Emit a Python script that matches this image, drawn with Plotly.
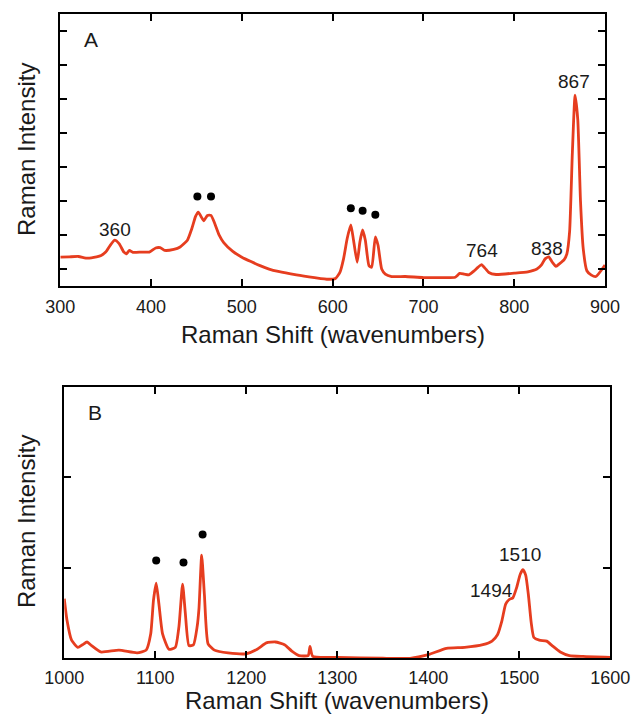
import plotly.graph_objects as go

# ---------------- Panel A data ----------------
a_shift = [300, 310, 320, 330, 340, 345, 350, 355, 360, 365, 370, 373, 376, 380, 390, 398, 405, 410, 415,
           425, 432, 440, 445, 449, 452, 455, 458, 462, 466, 470, 475, 480, 490, 500, 510, 520, 530, 540,
           560, 580, 595, 603, 608, 612, 616, 620, 623, 627, 630, 633, 636, 640, 643, 647, 650, 654, 658,
           665, 680, 700, 720, 735, 740, 745, 750, 756, 760, 764, 768, 772, 780, 800, 815, 825, 830, 834,
           838, 842, 846, 850, 855, 858, 861, 864, 867, 870, 873, 876, 880, 885, 890, 900]
a_int = [0.35, 0.36, 0.37, 0.32, 0.36, 0.40, 0.50, 0.70, 0.85, 0.74, 0.50, 0.45, 0.55, 0.49, 0.50, 0.50, 0.62,
         0.63, 0.55, 0.58, 0.65, 0.85, 1.20, 1.55, 1.68, 1.55, 1.42, 1.58, 1.58, 1.35, 1.00, 0.78, 0.52, 0.35,
         0.22, 0.10, 0.00, -0.07, -0.17, -0.25, -0.30, -0.28, -0.10, 0.30, 0.90, 1.30, 0.85, 0.20, 0.80, 1.15,
         0.85, 0.10, 0.05, 0.95, 0.70, 0.00, -0.15, -0.22, -0.22, -0.25, -0.25, -0.24, -0.13, -0.15, -0.17,
         -0.05, 0.05, 0.13, 0.02, -0.10, -0.16, -0.12, -0.08, 0.00, 0.12, 0.30, 0.36, 0.20, 0.08, 0.16, 0.28,
         0.45, 1.10, 3.40, 5.12, 4.40, 2.00, 0.60, -0.05, -0.18, -0.22, 0.12]

a_labels = ["360", "764", "838", "867"]
a_label_x = [360, 765, 836, 866]
a_label_y = [1.16, 0.55, 0.62, 5.52]
a_dot_x = [451, 466, 620, 633, 647]
a_dot_y = [2.14, 2.14, 1.79, 1.72, 1.60]
a_xticks = [300, 400, 500, 600, 700, 800, 900]
a_yticks = [0, 1, 2, 3, 4, 5, 6, 7]

# ---------------- Panel B data ----------------
b_shift = [1000, 1003, 1008, 1015, 1020, 1025, 1030, 1040, 1060, 1080, 1090, 1095, 1098, 1101, 1104, 1108,
           1115, 1122, 1126, 1130, 1133, 1137, 1142, 1146, 1148, 1151, 1154, 1158, 1165, 1180, 1200, 1212,
           1222, 1232, 1242, 1250, 1258, 1268, 1270, 1273, 1300, 1350, 1380, 1400, 1420, 1440, 1460,
           1470, 1476, 1481, 1485, 1489, 1493, 1497, 1501, 1504, 1507, 1510, 1513, 1516, 1522, 1530, 1536,
           1545, 1555, 1570, 1600]
b_int = [0.66, 0.42, 0.20, 0.12, 0.15, 0.18, 0.14, 0.07, 0.09, 0.06, 0.09, 0.27, 0.64, 0.83, 0.60, 0.27,
         0.10, 0.12, 0.35, 0.82, 0.50, 0.14, 0.15, 0.35, 0.55, 1.14, 0.70, 0.16, 0.09, 0.06, 0.05, 0.10,
         0.17, 0.18, 0.15, 0.08, 0.03, 0.03, 0.13, 0.02, 0.01, 0.00, 0.00, 0.04, 0.11, 0.12, 0.15,
         0.19, 0.26, 0.42, 0.60, 0.65, 0.67, 0.78, 0.93, 0.98, 0.92, 0.70, 0.40, 0.23, 0.20, 0.19, 0.14,
         0.07, 0.03, 0.02, 0.01]

b_labels = ["1510", "1494"]
b_label_x = [1501, 1469]
b_label_y = [1.15, 0.75]
b_dot_x = [1101, 1131, 1152]
b_dot_y = [1.08, 1.06, 1.37]
b_xticks = [1000, 1100, 1200, 1300, 1400, 1500, 1600]
b_yticks = [0, 1, 2, 3]

LINE = "#e63d1f"
TXT = "#1a1a1a"
FONT = "Liberation Sans, Arial, Helvetica, sans-serif"

fig = go.Figure()
fig.add_trace(go.Scatter(x=a_shift, y=a_int, mode="lines", xaxis="x", yaxis="y",
                         line=dict(color=LINE, width=2.8, shape="spline", smoothing=0.5),
                         showlegend=False))
fig.add_trace(go.Scatter(x=a_dot_x, y=a_dot_y, mode="markers", xaxis="x", yaxis="y",
                         marker=dict(color="black", size=8), showlegend=False))
fig.add_trace(go.Scatter(x=b_shift, y=b_int, mode="lines", xaxis="x2", yaxis="y2",
                         line=dict(color=LINE, width=2.8, shape="spline", smoothing=0.5),
                         showlegend=False))
fig.add_trace(go.Scatter(x=b_dot_x, y=b_dot_y, mode="markers", xaxis="x2", yaxis="y2",
                         marker=dict(color="black", size=8), showlegend=False))

axis_common = dict(showline=True, linecolor="black", linewidth=2, mirror="ticks",
                   ticks="inside", ticklen=7, tickwidth=1.5, tickcolor="black",
                   showgrid=False, zeroline=False, fixedrange=True, automargin=False)

fig.update_layout(
    width=632, height=721,
    margin=dict(l=0, r=0, t=0, b=0, autoexpand=False),
    paper_bgcolor="white", plot_bgcolor="white",
    font=dict(family=FONT, color=TXT),
    xaxis=dict(domain=[0.0954, 0.9573], range=[300, 900], tickvals=a_xticks,
               tickfont=dict(size=18, color=TXT), ticklabelstandoff=3, anchor="y", **axis_common),
    yaxis=dict(domain=[0.6033, 0.9799], range=[-0.5, 7.5], tickvals=a_yticks,
               showticklabels=False, anchor="x", **axis_common),
    xaxis2=dict(domain=[0.1017, 0.9657], range=[1000, 1600], tickvals=b_xticks,
                tickfont=dict(size=18, color=TXT), ticklabelstandoff=2, anchor="y2", **axis_common),
    yaxis2=dict(domain=[0.0870, 0.4632], range=[0, 3], tickvals=b_yticks,
                showticklabels=False, anchor="x2", **axis_common),
)

ann = []
for t, x, y in zip(a_labels, a_label_x, a_label_y):
    ann.append(dict(text=t, x=x, y=y, xref="x", yref="y", showarrow=False,
                    xanchor="center", yanchor="middle", font=dict(size=19, color=TXT)))
for t, x, y in zip(b_labels, b_label_x, b_label_y):
    ann.append(dict(text=t, x=x, y=y, xref="x2", yref="y2", showarrow=False,
                    xanchor="center", yanchor="middle", font=dict(size=19, color=TXT)))

# panel letters
ann.append(dict(text="A", x=91 / 632, y=1 - 40 / 721, xref="paper", yref="paper",
                xanchor="center", yanchor="middle", showarrow=False, font=dict(size=21, color=TXT)))
ann.append(dict(text="B", x=95 / 632, y=1 - 412 / 721, xref="paper", yref="paper",
                xanchor="center", yanchor="middle", showarrow=False, font=dict(size=21, color=TXT)))

# axis titles
for (xc, yc) in [(333 / 632, 1 - 334 / 721), (337 / 632, 1 - 700 / 721)]:
    ann.append(dict(text="Raman Shift (wavenumbers)", x=xc, y=yc, xref="paper", yref="paper",
                    xanchor="center", yanchor="middle", showarrow=False,
                    font=dict(size=24, color=TXT)))
for (xc, yc) in [(26 / 632, 1 - 150 / 721), (26 / 632, 1 - 522 / 721)]:
    ann.append(dict(text="Raman Intensity", x=xc, y=yc, xref="paper", yref="paper",
                    xanchor="center", yanchor="middle", showarrow=False, textangle=-90,
                    font=dict(size=24, color=TXT)))

fig.update_layout(annotations=ann)
fig.write_html("out.html")
